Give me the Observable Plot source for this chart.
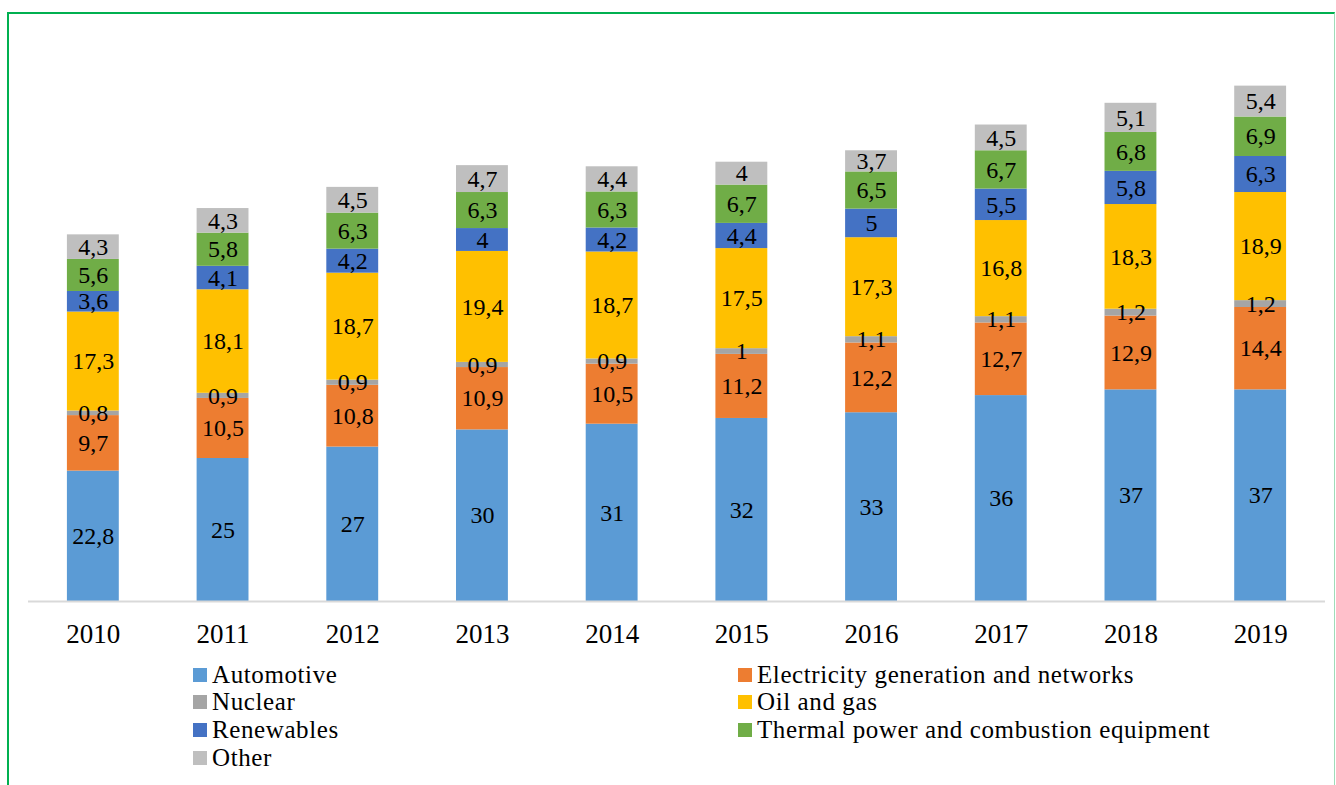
<!DOCTYPE html>
<html>
<head>
<meta charset="utf-8">
<script src="https://cdn.jsdelivr.net/npm/d3@7"></script>
<script src="https://cdn.jsdelivr.net/npm/@observablehq/plot@0.6"></script>
<style>
  html, body { margin: 0; padding: 0; background: #fff; }
  #wrap { position: relative; width: 1336px; height: 785px; overflow: hidden; font-family: "Liberation Serif", "Times New Roman", serif; }
  #frame { position: absolute; left: 7px; top: 12px; width: 1328px; height: 800px; border-left: 2px solid #00B050; border-top: 2px solid #00B050; border-right: 1px solid #9fdcb8; box-sizing: border-box; }
  #chart { position: absolute; left: 0; top: 0; }
  .leg { position: absolute; display: flex; align-items: center; height: 24px; font-size: 25px; letter-spacing: 0.6px; color: #000; white-space: nowrap; }
  .leg .lab { display: block; height: 24px; line-height: 24px; overflow: visible; }
  .sw { width: 14px; height: 14px; margin-right: 5px; }
</style>
</head>
<body>
<div id="wrap">
  <div id="frame"></div>
  <div id="chart"></div>
  <div id="legend"></div>
</div>
<script>
const years = ["2010","2011","2012","2013","2014","2015","2016","2017","2018","2019"];
const sectors = ["Automotive","Electricity generation and networks","Nuclear","Oil and gas","Renewables","Thermal power and combustion equipment","Other"];
const colors = ["#5B9BD5","#ED7D31","#A5A5A5","#FFC000","#4472C4","#70AD47","#BFBFBF"];

const automotive  = [22.8, 25, 27, 30, 31, 32, 33, 36, 37, 37];
const electricity = [9.7, 10.5, 10.8, 10.9, 10.5, 11.2, 12.2, 12.7, 12.9, 14.4];
const nuclear     = [0.8, 0.9, 0.9, 0.9, 0.9, 1, 1.1, 1.1, 1.2, 1.2];
const oilGas      = [17.3, 18.1, 18.7, 19.4, 18.7, 17.5, 17.3, 16.8, 18.3, 18.9];
const renewables  = [3.6, 4.1, 4.2, 4, 4.2, 4.4, 5, 5.5, 5.8, 6.3];
const thermal     = [5.6, 5.8, 6.3, 6.3, 6.3, 6.7, 6.5, 6.7, 6.8, 6.9];
const other       = [4.3, 4.3, 4.5, 4.7, 4.4, 4, 3.7, 4.5, 5.1, 5.4];

const seriesValues = [automotive, electricity, nuclear, oilGas, renewables, thermal, other];
const data = sectors.flatMap((s, i) => years.map((y, j) => ({year: y, sector: s, value: seriesValues[i][j]})));
const fmt = v => String(v).replace(".", ",");

const chart = Plot.plot({
  width: 1336,
  height: 660,
  marginTop: 29,
  marginBottom: 59,
  marginLeft: 28,
  marginRight: 11,
  style: {fontFamily: "Liberation Serif", fontSize: "26px", color: "#000", background: "transparent"},
  x: {domain: years, paddingInner: 0.6, paddingOuter: 0.3, round: false, label: null},
  y: {domain: [0, 100], axis: null},
  color: {domain: sectors, range: colors},
  marks: [
    Plot.barY(data, {x: "year", y: "value", fill: "sector", order: null}),
    Plot.text(data, Plot.stackY({x: "year", y: "value", z: "sector", order: null, text: d => fmt(d.value), fontSize: 24, fill: "#000"})),
    Plot.ruleY([0], {stroke: "#d9d9d9", strokeWidth: 2}),
    Plot.axisX({tickSize: 0, tickPadding: 22, fontSize: 27, label: null})
  ]
});
document.getElementById("chart").appendChild(chart);

const legend = document.getElementById("legend");
const cols = [193, 738];
const rows = [674.5, 702.3, 730.1, 757.9];
const placement = [[0,0],[1,0],[0,1],[1,1],[0,2],[1,2],[0,3]];
sectors.forEach((s, i) => {
  const [c, r] = placement[i];
  const item = document.createElement("div");
  item.className = "leg";
  item.style.left = cols[c] + "px";
  item.style.top = (rows[r] - 12) + "px";
  item.innerHTML = `<span class="sw" style="background:${colors[i]}"></span><span class="lab">${s}</span>`;
  legend.appendChild(item);
});
</script>
</body>
</html>
